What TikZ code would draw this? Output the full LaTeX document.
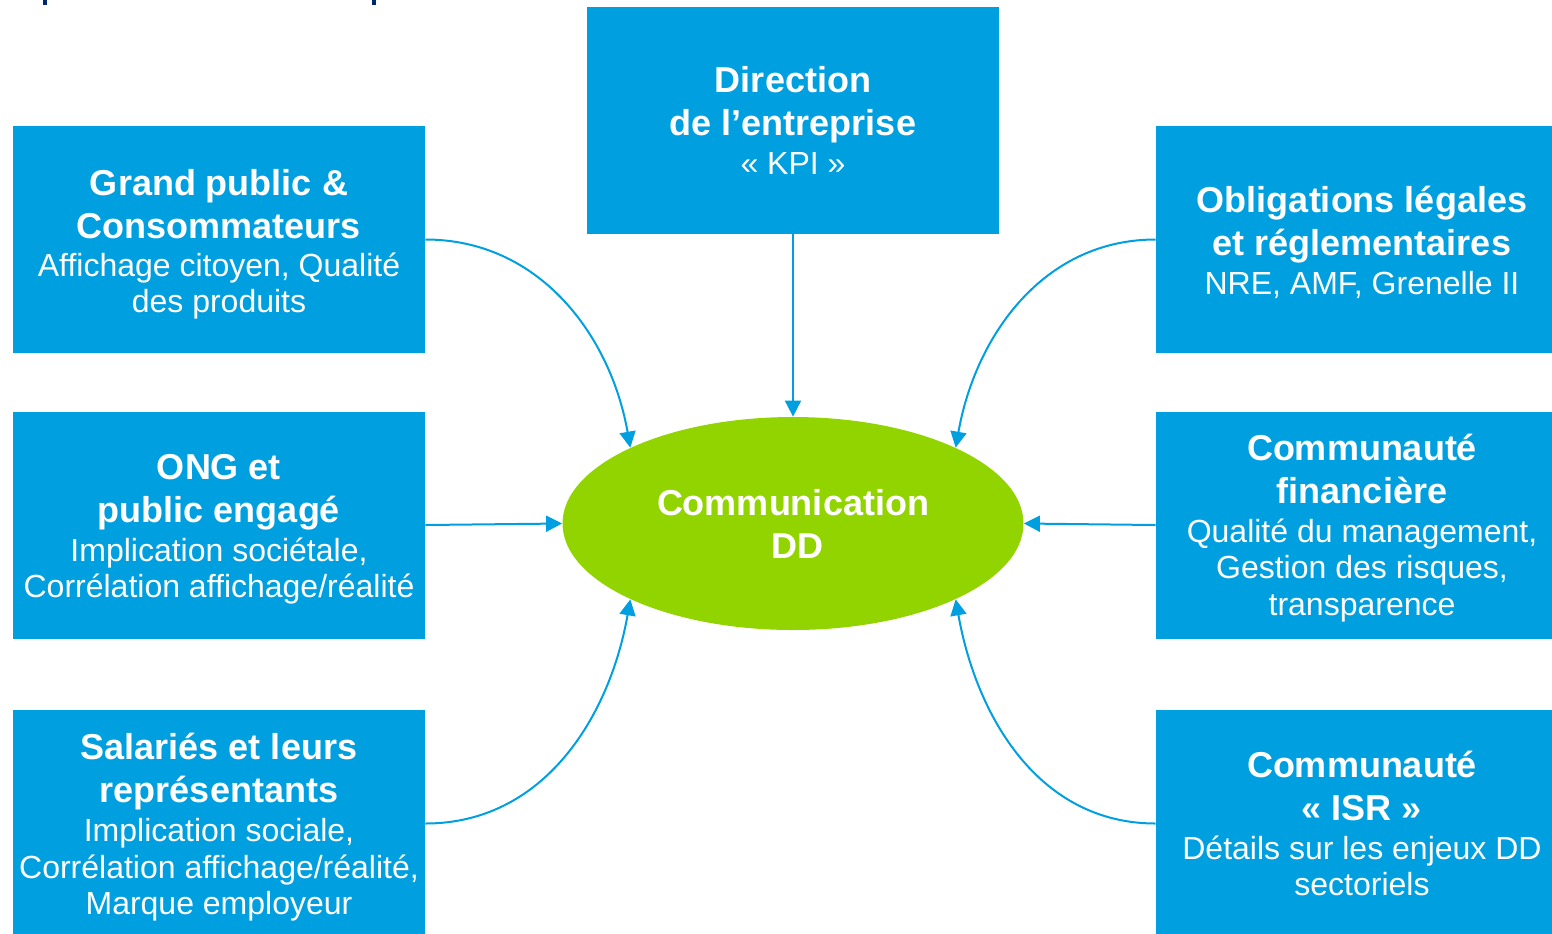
\documentclass[tikz,border=0pt]{standalone}
\usepackage{fontspec}
\setmainfont{Liberation Sans}
\usetikzlibrary{shapes.geometric,arrows.meta}
\definecolor{boxblue}{RGB}{0,160,224}
\definecolor{ddgreen}{RGB}{146,212,0}
\definecolor{navytitle}{RGB}{0,40,110}
\newcommand\Tfont{\fontsize{18}{21.5}\selectfont\bfseries}
\newcommand\Sfont{\fontsize{16}{18}\selectfont\mdseries}
\tikzset{
  box/.style={rectangle, fill=boxblue, minimum width=206pt, minimum height=113.5pt,
    inner sep=0pt},
  lbl/.style={inner sep=0pt, text=white, align=center, font=\Tfont},
  hub/.style={ellipse, fill=ddgreen, minimum width=230.5pt, minimum height=106.5pt,
    inner sep=0pt, text=white, align=center, font=\Tfont},
  arr/.style={draw=boxblue, line width=1pt, -{Triangle[length=8pt,width=8pt]}}
}
\begin{document}
\begin{tikzpicture}[x=0.5pt,y=0.5pt]
\useasboundingbox (0,0) rectangle (1552,-933);
\clip (0,0) rectangle (1552,-933);
\fill[navytitle] (42.5,0) rectangle (46.5,-5);
\fill[navytitle] (372,0) rectangle (376,-5);

\node[box] (dir) at (793,-120.5) {};
\node[box] (gp) at (219,-239.5) {};
\node[box] (ong) at (219,-525) {};
\node[box] (sal) at (219,-823.5) {};
\node[box] (obl) at (1362,-239.5) {};
\node[box] (fin) at (1362,-525) {};
\node[box] (isr) at (1362,-823.5) {};

\node[lbl] (dir-t) at (dir.center) {Direction\\de l’entreprise\\[-2pt]\Sfont « KPI »};
\node[lbl] (gp-t) at ([yshift=-2.5pt]gp.center) {Grand public \&\\Consommateurs\\[-2.3pt]\Sfont Affichage citoyen, Qualité\\[-3.5pt]\Sfont des produits};
\node[lbl] (ong-t) at ([yshift=-2pt]ong.center) {ONG et\\public engagé\\[-2pt]\Sfont Implication sociétale,\\[-3.25pt]\Sfont Corrélation affichage/réalité};
\node[lbl] (sal-t) at ([yshift=-2pt]sal.center) {Salariés et leurs\\représentants\\[-2pt]\Sfont Implication sociale,\\[-3.25pt]\Sfont Corrélation affichage/réalité,\\[-3.25pt]\Sfont Marque employeur};
\node[lbl] (obl-t) at ([yshift=-1.5pt]obl.center) {Obligations légales\\et réglementaires\\[-2pt]\Sfont NRE, AMF, Grenelle II};
\node[lbl] (fin-t) at ([yshift=-1.5pt]fin.center) {Communauté\\financière\\[-2pt]\Sfont Qualité du management,\\[-3.25pt]\Sfont Gestion des risques,\\[-3.25pt]\Sfont transparence};
\node[lbl] (isr-t) at (isr.center) {Communauté\\« ISR »\\[-2pt]\Sfont Détails sur les enjeux DD\\[-3.25pt]\Sfont sectoriels};

\node[hub] (cdd) at (793,-523.5) {Communication\\\hspace*{4pt}DD};

\draw[arr] (dir.south) -- (cdd.north);
\draw[arr] (gp.east) to[out=0,in=100] (cdd.155);
\draw[arr] (ong.east) -- (cdd.west);
\draw[arr] (sal.east) to[out=0,in=-100] (cdd.205);
\draw[arr] (obl.west) to[out=180,in=80] (cdd.25);
\draw[arr] (fin.west) -- (cdd.east);
\draw[arr] (isr.west) to[out=180,in=-80] (cdd.335);
\end{tikzpicture}
\end{document}
